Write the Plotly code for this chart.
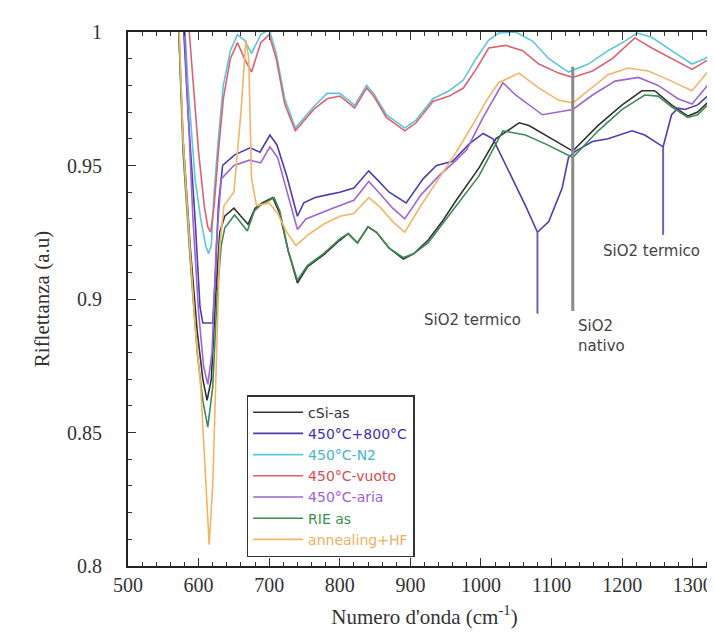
import plotly.graph_objects as go

# ---------------- data ----------------
names = ["cSi-as", "450°C+800°C", "450°C-N2", "450°C-vuoto", "450°C-aria", "RIE as", "annealing+HF"]

csi_x = [565, 572, 578, 588, 598, 606, 612, 618, 624, 630, 637, 650, 660, 670, 680, 690, 705, 715, 727, 740, 754, 777, 800, 812, 825, 840, 852, 870, 890, 905, 925, 945, 965, 997, 1021, 1054, 1068, 1092, 1130, 1166, 1200, 1228, 1246, 1270, 1293, 1307, 1338]
csi_y = [1.03, 1.0, 0.96, 0.92, 0.888, 0.87, 0.862, 0.87, 0.9, 0.925, 0.931, 0.934, 0.931, 0.928, 0.934, 0.936, 0.938, 0.932, 0.918, 0.906, 0.912, 0.9165, 0.922, 0.9245, 0.921, 0.927, 0.925, 0.919, 0.915, 0.917, 0.922, 0.929, 0.937, 0.949, 0.960, 0.966, 0.965, 0.9614, 0.9554, 0.965, 0.9727, 0.978, 0.978, 0.9727, 0.9685, 0.970, 0.978]

b800_x = [575, 585, 595, 602, 606, 620, 624, 628, 634, 651, 673, 687, 701, 711, 725, 740, 749, 765, 782, 800, 820, 841, 852, 870, 894, 918, 937, 960, 983, 1003, 1017, 1039, 1063, 1080, 1096, 1115, 1124, 1134, 1158, 1180, 1214, 1232, 1251, 1258, 1270, 1279, 1289, 1307, 1338]
b800_y = [1.02, 0.97, 0.93, 0.897, 0.891, 0.891, 0.91, 0.935, 0.95, 0.954, 0.9566, 0.955, 0.9614, 0.9577, 0.946, 0.931, 0.936, 0.938, 0.939, 0.940, 0.9416, 0.948, 0.945, 0.940, 0.936, 0.945, 0.950, 0.9516, 0.958, 0.962, 0.960, 0.948, 0.935, 0.925, 0.929, 0.9416, 0.953, 0.9554, 0.959, 0.960, 0.963, 0.9614, 0.958, 0.957, 0.969, 0.9715, 0.971, 0.9727, 0.980]

n2_x = [575, 585, 595, 603, 610, 614, 618, 622, 628, 635, 645, 655, 665, 675, 688, 700, 710, 722, 737, 750, 763, 782, 800, 810, 821, 838, 848, 866, 892, 908, 932, 955, 975, 993, 1011, 1025, 1049, 1073, 1096, 1124, 1152, 1180, 1204, 1221, 1242, 1270, 1299, 1317, 1338]
n2_y = [1.03, 0.98, 0.945, 0.93, 0.92, 0.917, 0.92, 0.94, 0.96, 0.98, 0.993, 0.999, 0.997, 0.992, 0.999, 1.001, 0.992, 0.975, 0.964, 0.968, 0.972, 0.977, 0.977, 0.975, 0.9725, 0.980, 0.977, 0.969, 0.964, 0.967, 0.975, 0.978, 0.982, 0.990, 0.997, 0.9996, 1.0, 0.9966, 0.990, 0.985, 0.988, 0.993, 0.9966, 0.9996, 0.998, 0.993, 0.988, 0.990, 0.994]

vuoto_x = [575, 590, 600, 608, 613, 617, 622, 628, 635, 645, 655, 665, 675, 688, 700, 710, 722, 737, 750, 763, 782, 800, 810, 821, 838, 848, 866, 892, 908, 932, 955, 975, 993, 1011, 1035, 1059, 1082, 1110, 1130, 1158, 1186, 1218, 1242, 1270, 1299, 1321, 1338]
vuoto_y = [1.04, 0.99, 0.955, 0.935, 0.927, 0.925, 0.935, 0.955, 0.975, 0.99, 0.996, 0.99, 0.985, 0.996, 0.999, 0.99, 0.973, 0.963, 0.967, 0.971, 0.975, 0.976, 0.974, 0.9715, 0.979, 0.976, 0.968, 0.963, 0.966, 0.974, 0.976, 0.979, 0.986, 0.994, 0.995, 0.993, 0.988, 0.9846, 0.983, 0.9854, 0.990, 0.9978, 0.994, 0.990, 0.986, 0.9895, 0.993]

aria_x = [575, 583, 592, 600, 607, 613, 619, 625, 632, 650, 672, 688, 701, 712, 726, 740, 752, 770, 790, 820, 841, 855, 875, 892, 915, 940, 965, 980, 1003, 1031, 1049, 1087, 1110, 1130, 1158, 1190, 1223, 1251, 1279, 1299, 1321, 1338]
aria_y = [1.03, 0.98, 0.93, 0.895, 0.875, 0.868, 0.88, 0.92, 0.945, 0.95, 0.952, 0.951, 0.957, 0.953, 0.94, 0.926, 0.93, 0.932, 0.934, 0.937, 0.944, 0.940, 0.934, 0.930, 0.939, 0.946, 0.952, 0.956, 0.968, 0.981, 0.9764, 0.969, 0.970, 0.971, 0.9764, 0.9816, 0.983, 0.980, 0.975, 0.973, 0.980, 0.9835]

rie_x = [565, 572, 578, 588, 598, 606, 613, 620, 626, 632, 637, 651, 669, 679, 687, 707, 715, 727, 740, 754, 777, 800, 812, 825, 840, 852, 870, 890, 905, 925, 945, 965, 997, 1031, 1063, 1092, 1130, 1166, 1200, 1232, 1251, 1270, 1293, 1307, 1338]
rie_y = [1.03, 1.0, 0.955, 0.915, 0.88, 0.862, 0.852, 0.867, 0.9, 0.92, 0.9266, 0.9315, 0.9255, 0.933, 0.935, 0.938, 0.933, 0.918, 0.907, 0.9125, 0.917, 0.9225, 0.9245, 0.921, 0.927, 0.925, 0.919, 0.9155, 0.917, 0.921, 0.928, 0.935, 0.946, 0.963, 0.9614, 0.958, 0.953, 0.963, 0.971, 0.9764, 0.976, 0.972, 0.968, 0.969, 0.977]

hf_x = [570, 578, 585, 595, 603, 609, 615, 620, 624, 630, 636, 650, 660, 667, 671, 675, 682, 700, 712, 725, 738, 755, 777, 800, 820, 841, 855, 875, 892, 915, 940, 965, 990, 1007, 1025, 1054, 1082, 1110, 1130, 1152, 1180, 1208, 1237, 1270, 1299, 1321, 1338]
hf_y = [1.02, 0.96, 0.93, 0.89, 0.867, 0.835, 0.808, 0.83, 0.867, 0.92, 0.935, 0.94, 0.97, 0.997, 0.99, 0.945, 0.935, 0.936, 0.932, 0.925, 0.92, 0.924, 0.928, 0.931, 0.932, 0.938, 0.935, 0.929, 0.925, 0.935, 0.945, 0.955, 0.966, 0.974, 0.981, 0.9846, 0.979, 0.9745, 0.9734, 0.978, 0.984, 0.9865, 0.9854, 0.9816, 0.978, 0.985, 0.989]

colors = ["#333333", "#4b3fb0", "#5cc6dc", "#e0606e", "#a066d0", "#3d8c55", "#f2b566"]
text_colors = ["#333333", "#3a35b0", "#45b5d5", "#e04a50", "#a060d8", "#3d9050", "#f0b060"]

xs = [csi_x, b800_x, n2_x, vuoto_x, aria_x, rie_x, hf_x]
ys = [csi_y, b800_y, n2_y, vuoto_y, aria_y, rie_y, hf_y]

# annotation markers (wavenumber, y top, y bottom)
mark_x = [1080, 1130, 1258]
mark_top = [0.925, 0.987, 0.957]
mark_bot = [0.8945, 0.8955, 0.924]
mark_col = ["#6a62c4", "#8a8a8a", "#6a62c4"]
mark_w = [2, 3, 2]

labels_text = ["SiO2 termico", "SiO2<br>nativo", "SiO2 termico"]
labels_x = [1060, 1134, 1241]
labels_y = [0.892, 0.894, 0.918]
labels_anchor = [("right", "middle"), ("left", "top"), ("center", "middle")]

x_ticks = [500, 600, 700, 800, 900, 1000, 1100, 1200, 1300]
y_ticks = [0.8, 0.85, 0.9, 0.95, 1.0]
y_ticktext = ["0.8", "0.85", "0.9", "0.95", "1"]

# ---------------- figure ----------------
fig = go.Figure()
for i in range(len(names)):
    fig.add_trace(go.Scatter(
        x=xs[i], y=ys[i], mode="lines",
        name=f"<span style='color:{text_colors[i]}'>{names[i]}</span>",
        line=dict(color=colors[i], width=1.6),
    ))

for mx, t, b, c, w in zip(mark_x, mark_top, mark_bot, mark_col, mark_w):
    fig.add_shape(type="line", x0=mx, x1=mx, y0=b, y1=t, xref="x", yref="y",
                  line=dict(color=c, width=w))

sans = "DejaVu Sans, Arial, sans-serif"
for t, x, y, (xa, ya) in zip(labels_text, labels_x, labels_y, labels_anchor):
    fig.add_annotation(x=x, y=y, text=t, showarrow=False, xanchor=xa, yanchor=ya,
                       align="left", font=dict(family=sans, size=15, color="#444444"))

serif = "Liberation Serif, Times New Roman, serif"
fig.update_layout(
    width=715, height=641,
    margin=dict(l=120, r=0, t=24, b=83),
    paper_bgcolor="white", plot_bgcolor="white",
    showlegend=True,
    legend=dict(x=0.2, y=0.32, xanchor="left", yanchor="top",
                bgcolor="white", bordercolor="#333333", borderwidth=1.5,
                font=dict(family=sans, size=14, color="#333333"),
                itemwidth=50, tracegroupgap=0),
    xaxis=dict(range=[500, 1340], tickvals=x_ticks, ticks="inside", ticklen=8,
               tickwidth=1.2, tickcolor="#333", showline=True, linecolor="#222",
               linewidth=2, mirror="ticks", showgrid=False, zeroline=False,
               minor=dict(dtick=20, ticks="inside", ticklen=4, tickcolor="#333", showgrid=False),
               tickfont=dict(family=serif, size=20, color="#333"),
               title=dict(text="Numero d'onda (cm<sup>-1</sup>)",
                          font=dict(family=serif, size=21, color="#333"), standoff=14)),
    yaxis=dict(range=[0.8, 1.0], tickvals=y_ticks, ticktext=y_ticktext, ticks="inside",
               ticklen=8, tickwidth=1.2, tickcolor="#333", showline=True, linecolor="#222",
               linewidth=2, mirror="ticks", showgrid=False, zeroline=False,
               minor=dict(dtick=0.01, ticks="inside", ticklen=4, tickcolor="#333", showgrid=False),
               tickfont=dict(family=serif, size=20, color="#333"), ticklabelstandoff=20,
               title=dict(text="Riflettanza (a.u)",
                          font=dict(family=serif, size=21, color="#333"), standoff=12)),
)

fig.write_html("out.html")
